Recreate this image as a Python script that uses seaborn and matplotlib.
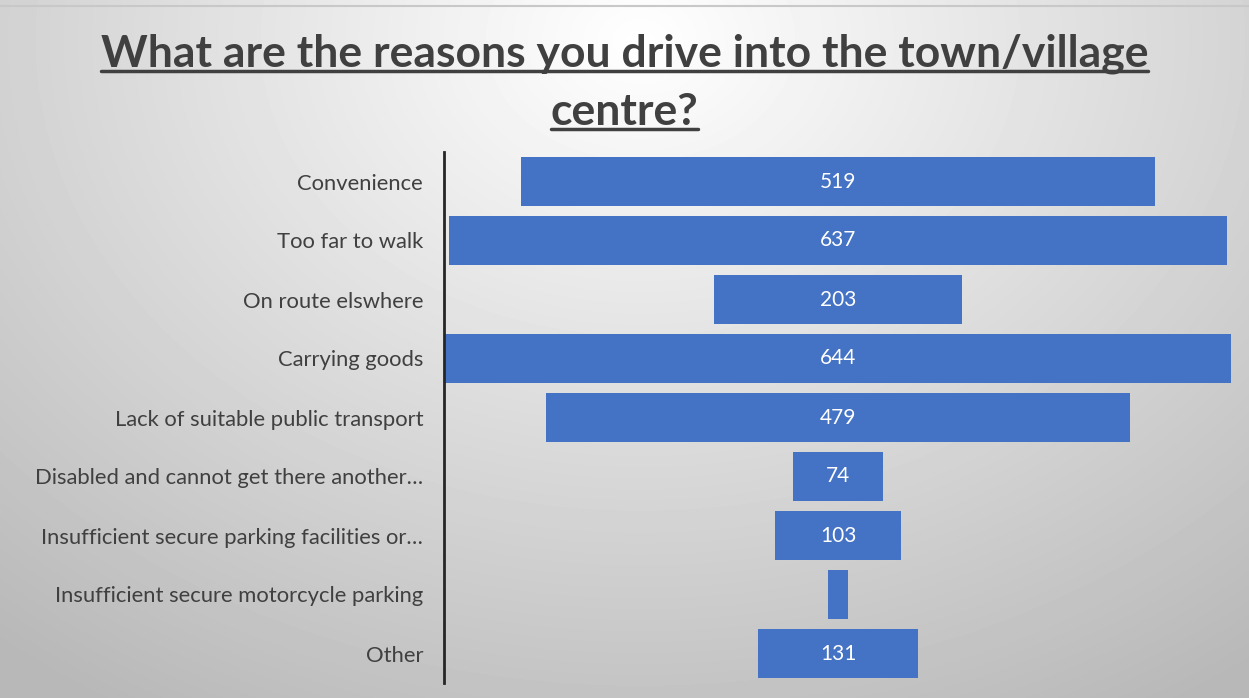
import numpy as np
import pandas as pd
import seaborn as sns
import matplotlib.pyplot as plt
from matplotlib.lines import Line2D

reasons = [
    'Convenience',
    'Too far to walk',
    'On route elswhere',
    'Carrying goods',
    'Lack of suitable public transport',
    'Disabled and cannot get there another\u2026',
    'Insufficient secure parking facilities or\u2026',
    'Insufficient secure motorcycle parking',
    'Other',
]
counts = [519, 637, 203, 644, 479, 74, 103, 17, 131]
shown = [True, True, True, True, True, True, True, False, True]

sns.set_theme(style='white')
plt.rcParams['font.family'] = ['Lato', 'DejaVu Sans']

df = pd.DataFrame({'reason': reasons, 'count': counts})
df['half'] = df['count'] / 2
df['neg'] = -df['count'] / 2

fig = plt.figure(figsize=(12.49, 6.98), dpi=100)

# radial grey background
bg = fig.add_axes([0, 0, 1, 1], zorder=-10)
yy, xx = np.mgrid[0:698, 0:1249]
r = np.sqrt(((xx - 640) / 900.0) ** 2 + ((yy - 40) / 700.0) ** 2)
shade = np.clip(1.0 - 0.25 * r, 0.72, 1.0)
bg.imshow(shade, cmap='gray', vmin=0, vmax=1, aspect='auto')
bg.axhline(5, color='#c8c8c8', lw=1.5)
bg.set_axis_off()

ax = fig.add_axes([444 / 1249, 1 - 683 / 698, 788 / 1249, 531 / 698])
ax.set_facecolor('none')
blue = '#4472c4'
sns.barplot(data=df, x='half', y='reason', orient='h', color=blue, width=0.84,
            saturation=1, linewidth=0, ax=ax)
sns.barplot(data=df, x='neg', y='reason', orient='h', color=blue, width=0.84,
            saturation=1, linewidth=0, ax=ax)

for i, (c, s) in enumerate(zip(counts, shown)):
    if s:
        ax.text(0, i, str(c), ha='center', va='center', color='white', fontsize=15)

ax.set_xlim(-323, 323)
ax.set_ylim(8.5, -0.5)
ax.set_xticks([])
ax.set_xlabel('')
ax.set_ylabel('')
for side in ['top', 'right', 'bottom']:
    ax.spines[side].set_visible(False)
ax.spines['left'].set_color('#262626')
ax.spines['left'].set_linewidth(2)
ax.tick_params(axis='y', length=0, pad=15, labelsize=15.8, labelcolor='#404040')

# underlined title
t1 = fig.text(0.5, 1 - 54 / 698, 'What are the reasons you drive into the town/village',
              ha='center', va='center', fontsize=32, fontweight='bold', color='#404040')
t2 = fig.text(0.5, 1 - 112 / 698, 'centre?', ha='center', va='center',
              fontsize=32, fontweight='bold', color='#404040')
fig.canvas.draw()
inv = fig.transFigure.inverted()
for t in (t1, t2):
    bb = t.get_window_extent().transformed(inv)
    y = bb.y0 + 0.004
    fig.add_artist(Line2D([bb.x0, bb.x1], [y, y], transform=fig.transFigure,
                          color='#404040', lw=2.5))

fig.savefig('out.png', dpi=100)
